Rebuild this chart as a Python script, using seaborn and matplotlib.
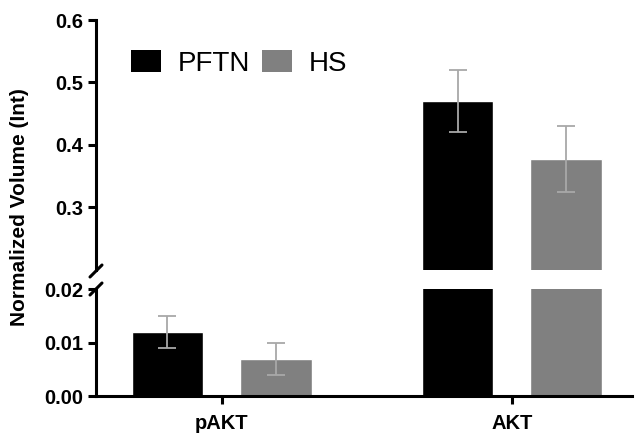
import matplotlib
matplotlib.use("Agg")
import pandas as pd
import matplotlib.pyplot as plt
import seaborn as sns
from matplotlib.patches import Patch
from matplotlib.lines import Line2D

# data
groups = ["pAKT", "AKT"]
conditions = ["PFTN", "HS"]
pftn_mean = [0.012, 0.470]
pftn_err = [0.003, 0.050]
hs_mean = [0.007, 0.377]
hs_err = [0.003, 0.053]

colors = {"PFTN": "#000000", "HS": "#808080"}

df = pd.DataFrame({
    "target": groups * 2,
    "condition": ["PFTN"] * 2 + ["HS"] * 2,
    "value": pftn_mean + hs_mean,
    "err": pftn_err + hs_err,
})

sns.set_style("ticks")
plt.rcParams["font.family"] = ["Liberation Sans", "DejaVu Sans"]
for k in ("text.color", "axes.edgecolor", "axes.labelcolor", "xtick.color", "ytick.color"):
    plt.rcParams[k] = "black"

W, H = 637, 440
fig = plt.figure(figsize=(W / 100, H / 100), dpi=100)
ax_top = fig.add_axes([96 / W, 1 - 270 / H, (632 - 96) / W, 250 / H])
ax_bot = fig.add_axes([96 / W, 1 - 396 / H, (632 - 96) / W, 107 / H])

for ax in (ax_top, ax_bot):
    sns.barplot(data=df, x="target", y="value", hue="condition",
                order=groups, hue_order=conditions, palette=colors,
                width=0.75, gap=0.34, errorbar=None, saturation=1,
                legend=False, ax=ax)
    for cont, cond in zip(ax.containers, conditions):
        sub = df[df.condition == cond].set_index("target").loc[groups]
        xs = [p.get_x() + p.get_width() / 2 for p in cont]
        ax.errorbar(xs, sub["value"], yerr=sub["err"], fmt="none",
                    ecolor="#a8a8a8", elinewidth=1.3, capsize=6.5, capthick=1.3)
    ax.set_xlim(-0.434, 1.414)
    ax.set_xlabel("")
    ax.set_ylabel("")
    for s in ("top", "right"):
        ax.spines[s].set_visible(False)
    for s in ("left", "bottom"):
        ax.spines[s].set_linewidth(2.2)
    ax.tick_params(width=2.2, length=6, labelsize=14.5, pad=3)
    for lab in ax.get_yticklabels() + ax.get_xticklabels():
        lab.set_fontweight("bold")

ax_top.set_ylim(0.2, 0.6)
ax_top.set_yticks([0.3, 0.4, 0.5, 0.6])
ax_top.set_yticklabels(["0.3", "0.4", "0.5", "0.6"], fontweight="bold")
ax_top.spines["bottom"].set_visible(False)
ax_top.tick_params(axis="x", bottom=False, labelbottom=False)

ax_bot.set_ylim(0, 0.02)
ax_bot.set_yticks([0.0, 0.01, 0.02])
ax_bot.set_yticklabels(["0.00", "0.01", "0.02"], fontweight="bold")
ax_bot.tick_params(axis="x", pad=7)

# axis break slashes
for yc in (271, 289):
    fig.add_artist(Line2D([(96 - 6) / W, (96 + 6) / W],
                          [1 - (yc + 6) / H, 1 - (yc - 6) / H],
                          transform=fig.transFigure, color="black", lw=2.2))

fig.text(20 / W, 1 - 207 / H, "Normalized Volume (Int)", rotation=90,
         ha="center", va="center", fontsize=15, fontweight="bold")

handles = [Patch(facecolor=colors[c], edgecolor="none", label=c) for c in conditions]
fig.legend(handles=handles, loc="upper left", bbox_to_anchor=(131 / W, 1 - 50 / H),
           ncol=2, frameon=False, borderpad=0, borderaxespad=0,
           handlelength=1.07, handleheight=0.83,
           handletextpad=0.6, columnspacing=0.45,
           prop={"size": 20})

fig.savefig("out.png", dpi=100)
